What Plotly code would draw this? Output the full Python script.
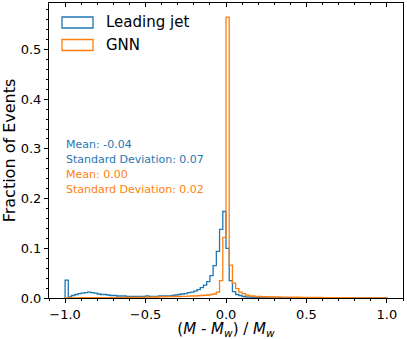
import numpy as np
import plotly.graph_objects as go

# ---- data ----
bin_edges = np.round(np.linspace(-1.0, 1.0, 101), 4)

leading_jet = [
    0.036, 0.002, 0.005, 0.007, 0.009, 0.010, 0.011, 0.012, 0.011, 0.010,
    0.008, 0.007, 0.007, 0.006, 0.005, 0.005, 0.004, 0.004, 0.004, 0.003,
    0.003, 0.003, 0.003, 0.003, 0.003, 0.004, 0.003, 0.003, 0.003, 0.004,
    0.004, 0.004, 0.004, 0.005, 0.006, 0.007, 0.008, 0.009, 0.011, 0.012,
    0.014, 0.017, 0.021, 0.026, 0.033, 0.045, 0.065, 0.094, 0.138, 0.174,
    0.100, 0.035, 0.013, 0.007, 0.005, 0.003, 0.002, 0.002, 0.001, 0.001,
    0.001, 0.001, 0.001, 0.001, 0.001, 0.0008, 0.0008, 0.0006, 0.0006, 0.0005,
    0.0005, 0.0004, 0.0004, 0.0003, 0.0003, 0.0003, 0.0002, 0.0002, 0.0002, 0.0002,
    0.0001, 0.0001, 0.0001, 0.0001, 0.0001, 0.0001, 0.0001, 0.0001, 0.0001, 0.0001,
    0.0001, 0.0001, 0.0001, 0.0001, 0.0001, 0.0001, 0.0001, 0.0001, 0.0001, 0.0001,
]

gnn = [
    0.0003, 0.0003, 0.0004, 0.0004, 0.0005, 0.0005, 0.0005, 0.0006, 0.0006, 0.0006,
    0.0007, 0.0007, 0.0007, 0.0008, 0.0008, 0.0008, 0.0009, 0.0009, 0.001, 0.001,
    0.001, 0.0012, 0.0012, 0.0014, 0.0015, 0.0016, 0.0018, 0.002, 0.002, 0.0022,
    0.0024, 0.0025, 0.0027, 0.003, 0.003, 0.003, 0.0032, 0.0034, 0.0036, 0.004,
    0.004, 0.0045, 0.005, 0.0055, 0.006, 0.007, 0.008, 0.012, 0.035, 0.122,
    0.565, 0.066, 0.030, 0.019, 0.012, 0.009, 0.006, 0.004, 0.004, 0.003,
    0.003, 0.0025, 0.0025, 0.002, 0.002, 0.002, 0.002, 0.0018, 0.0018, 0.0016,
    0.0016, 0.0015, 0.0015, 0.0014, 0.0013, 0.0012, 0.0012, 0.0011, 0.001, 0.001,
    0.0009, 0.0008, 0.0008, 0.0007, 0.0006, 0.0006, 0.0005, 0.0005, 0.0004, 0.0004,
    0.0003, 0.0003, 0.0003, 0.0002, 0.0002, 0.0002, 0.0002, 0.0001, 0.0001, 0.0001,
]

series_names = ["Leading jet", "GNN"]
series_colors = ["#1f77b4", "#ff7f0e"]
stats_text = [
    ("Mean: -0.04", "#1f77b4"),
    ("Standard Deviation: 0.07", "#1f77b4"),
    ("Mean: 0.00", "#ff7f0e"),
    ("Standard Deviation: 0.02", "#ff7f0e"),
]


def step_outline(edges, values):
    v = np.asarray(values, dtype=float)
    xs = np.concatenate([[edges[0]], edges[:-1], [edges[-1]], [edges[-1]]])
    ys = np.concatenate([[0.0], v, [v[-1]], [0.0]])
    return xs, ys


FONT = "DejaVu Sans"
fig = go.Figure()

for name, vals, col in zip(series_names, [leading_jet, gnn], series_colors):
    xs, ys = step_outline(bin_edges, vals)
    fig.add_trace(go.Scatter(x=xs, y=ys, mode="lines", line_shape="hv",
                             line=dict(color=col, width=1.3), name=name,
                             showlegend=False, hoverinfo="skip"))

# invisible trace to carry the top tick axis
xs, ys = step_outline(bin_edges, gnn)
fig.add_trace(go.Scatter(x=xs, y=ys, mode="lines", xaxis="x2", opacity=0,
                         showlegend=False, hoverinfo="skip",
                         line=dict(width=0.5, color="rgba(0,0,0,0)")))

L, R, T, B = 49, 4, 3, 41
W, H = 407, 339
pw, ph = W - L - R, H - T - B


def px_x(p):
    return (p - L) / pw


def px_y(p):
    return (H - B - p) / ph


# manual legend (patches + labels)
legend_rows = [(17, 28), (39.5, 50.5)]
for (y0, y1), name, col in zip(legend_rows, series_names, series_colors):
    fig.add_shape(type="rect", xref="paper", yref="paper",
                  x0=px_x(62), x1=px_x(93), y0=px_y(y1), y1=px_y(y0),
                  line=dict(color=col, width=1.3), fillcolor="rgba(0,0,0,0)")
    fig.add_annotation(xref="paper", yref="paper", x=px_x(104),
                       y=px_y((y0 + y1) / 2), text=name, showarrow=False,
                       xanchor="left", yanchor="middle",
                       font=dict(family=FONT, size=15, color="black"))

for k, (txt, col) in enumerate(stats_text):
    fig.add_annotation(xref="paper", yref="paper", x=px_x(64),
                       y=px_y(144 + 15.1 * k), text=txt, showarrow=False,
                       xanchor="left", yanchor="middle",
                       font=dict(family=FONT, size=11, color=col))

fig.update_layout(
    width=W, height=H,
    margin=dict(l=L, r=R, t=T, b=B),
    paper_bgcolor="white", plot_bgcolor="white",
    font=dict(family=FONT, color="black"),
    xaxis=dict(range=[-1.1, 1.1], dtick=0.5, tick0=0, tickformat=".1f",
               showgrid=False, zeroline=False, showline=True, mirror=True,
               linecolor="black", linewidth=1, ticks="outside", ticklen=4,
               tickwidth=1, tickcolor="black",
               tickfont=dict(family=FONT, size=13),
               minor=dict(dtick=0.1, tick0=0, ticks="outside", ticklen=2,
                          tickcolor="black", showgrid=False),
               title=dict(text="(<i>M</i> - <i>M<sub>w</sub></i>) / <i>M<sub>w</sub></i>",
                          font=dict(family=FONT, size=15), standoff=3)),
    xaxis2=dict(range=[-1.1, 1.1], overlaying="x", side="top", matches="x",
                dtick=0.5, tick0=0, showticklabels=False, showgrid=False,
                zeroline=False, showline=False, ticks="inside", ticklen=4,
                tickcolor="black",
                minor=dict(dtick=0.1, tick0=0, ticks="inside", ticklen=2,
                           tickcolor="black", showgrid=False)),
    yaxis=dict(range=[0, 0.5935], dtick=0.1, tick0=0, tickformat=".1f",
               showgrid=False, zeroline=False, showline=True, mirror=True,
               linecolor="black", linewidth=1, ticks="outside", ticklen=4,
               tickwidth=1, tickcolor="black",
               tickfont=dict(family=FONT, size=13),
               minor=dict(dtick=0.02, tick0=0, ticks="outside", ticklen=2,
                          tickcolor="black", showgrid=False),
               title=dict(text="Fraction of Events",
                          font=dict(family=FONT, size=16), standoff=6)),
)

fig.write_html("out.html", config={"displayModeBar": False},
               post_script="document.body.style.margin='0';document.body.style.padding='0';")
